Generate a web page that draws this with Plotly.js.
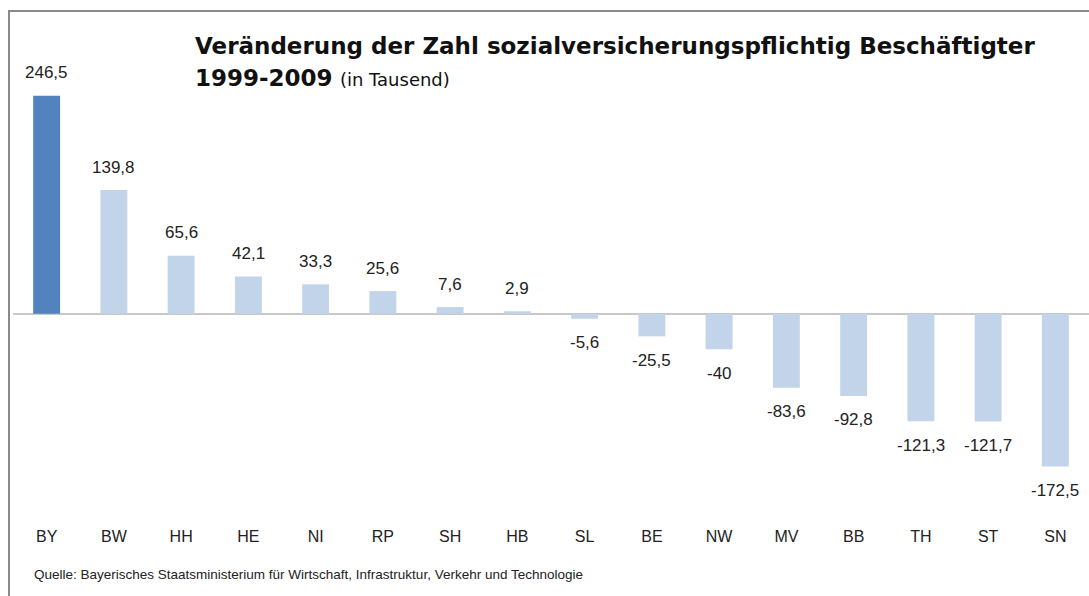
<!DOCTYPE html>
<html>
<head>
<meta charset="utf-8">
<script src="https://cdn.plot.ly/plotly-3.0.1.min.js"></script>
<style>
  body { margin:0; padding:0; background:#fff; }
  #frame { position:absolute; left:8px; top:10px; width:1100px; height:600px;
           border-top:2px solid #8a8a8a; border-left:2px solid #8a8a8a; }
  #chart { position:absolute; left:0; top:0; width:1089px; height:596px; }
</style>
</head>
<body>
<div id="frame"></div>
<div id="chart"></div>
<script>
const categories = ["BY","BW","HH","HE","NI","RP","SH","HB","SL","BE","NW","MV","BB","TH","ST","SN"];
const values = [246.5, 139.8, 65.6, 42.1, 33.3, 25.6, 7.6, 2.9, -5.6, -25.5, -40, -83.6, -92.8, -121.3, -121.7, -172.5];
const highlight = "BY";

const colors = categories.map(c => c === highlight ? "#5383bf" : "#c2d4ea");
const labels = values.map(v => String(v).replace(".", ","));

const W = 1089, H = 596;
const mL = 13, mR = 0, mT = 66, mB = 76;
const plotH = H - mT - mB;
const plotW = W - mL - mR;
const py = px => (H - mB - px) / plotH;
const pxX = px => (px - mL) / plotW;

const valueAnnotations = categories.map((c, i) => ({
  x: c, y: values[i], xref: "x", yref: "y",
  text: labels[i], showarrow: false,
  yshift: values[i] >= 0 ? 23 : -24,
  font: {family: "Liberation Sans, Arial", size: 17, color: "#222"}
}));

const trace = {
  type: "bar",
  x: categories,
  y: values,
  marker: {color: colors, line: {width: 0}},
  hoverinfo: "x+y"
};

const layout = {
  width: W, height: H,
  margin: {l: mL, r: mR, t: mT, b: mB},
  paper_bgcolor: "rgba(0,0,0,0)",
  plot_bgcolor: "rgba(0,0,0,0)",
  showlegend: false,
  bargap: 0.6,
  xaxis: {
    type: "category",
    showgrid: false, showline: false, ticks: "",
    tickfont: {family: "Liberation Sans, Arial", size: 16, color: "#222"},
    ticklabelstandoff: 5
  },
  yaxis: {
    range: [-233, 280],
    showgrid: false, showticklabels: false, ticks: "",
    zeroline: true, zerolinecolor: "#c8c8c8", zerolinewidth: 2
  },
  annotations: valueAnnotations.concat([
    {
      xref: "paper", yref: "paper", x: pxX(193), y: py(46),
      xanchor: "left", yanchor: "middle", showarrow: false, align: "left",
      text: "<b>Veränderung der Zahl sozialversicherungspflichtig Beschäftigter</b>",
      font: {family: "DejaVu Sans, Verdana", size: 23, color: "#111"}
    },
    {
      xref: "paper", yref: "paper", x: pxX(193), y: py(78),
      xanchor: "left", yanchor: "middle", showarrow: false, align: "left",
      text: "<b>1999-2009</b> <span style='font-size:18px'>(in Tausend)</span>",
      font: {family: "DejaVu Sans, Verdana", size: 23, color: "#111"}
    },
    {
      xref: "paper", yref: "paper", x: pxX(32), y: py(574),
      xanchor: "left", yanchor: "middle", showarrow: false, align: "left",
      text: "Quelle: Bayerisches Staatsministerium für Wirtschaft, Infrastruktur, Verkehr und Technologie",
      font: {family: "Liberation Sans, Arial", size: 13.5, color: "#222"}
    }
  ])
};

Plotly.newPlot("chart", [trace], layout, {displayModeBar: false, staticPlot: true});
</script>
</body>
</html>
